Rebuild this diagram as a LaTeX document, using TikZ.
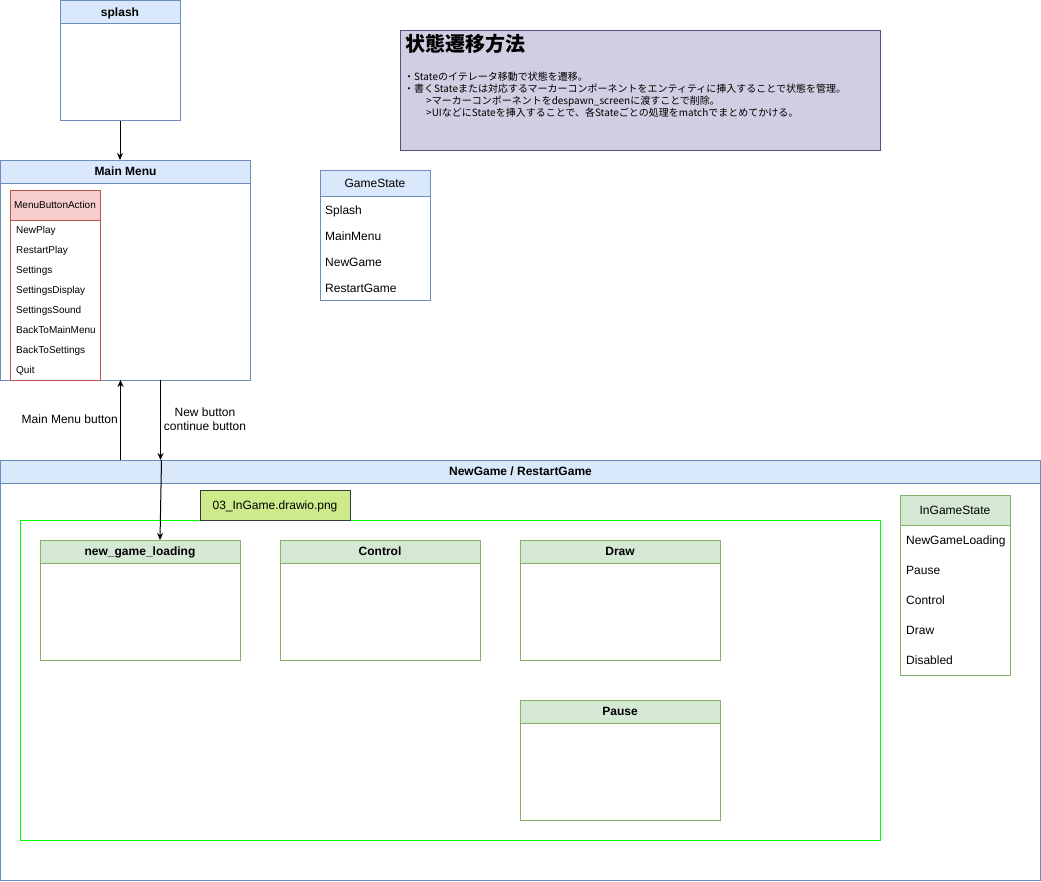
\documentclass[tikz,border=0pt]{standalone}
\usepackage{fontspec}
\setmainfont{Liberation Sans}
\newfontfamily\jp{Noto Sans CJK JP}
\usetikzlibrary{arrows.meta}

\definecolor{blfill}{HTML}{DAE8FC}
\definecolor{blline}{HTML}{6C8EBF}
\definecolor{rdfill}{HTML}{F8CECC}
\definecolor{rdline}{HTML}{B85450}
\definecolor{gnfill}{HTML}{D5E8D4}
\definecolor{gnline}{HTML}{82B366}
\definecolor{ntfill}{HTML}{D0CEE2}
\definecolor{ntline}{HTML}{56517E}
\definecolor{imgfill}{HTML}{CDEB8B}
\definecolor{imgline}{HTML}{36393D}
\definecolor{lime}{HTML}{00FF00}

\tikzset{
  frame/.style={draw=#1, line width=1pt, anchor=north west, inner sep=0pt, outer sep=0pt},
  head/.style 2 args={frame=#1, fill=#2, text depth=0pt, font=\fontsize{12}{14}\selectfont\bfseries},
  lhead/.style 2 args={frame=#1, fill=#2, text depth=0pt, font=\fontsize{12}{14}\selectfont},
  item/.style={anchor=base west, inner sep=0pt, yshift=-4.5pt, font=\fontsize{12}{14}\selectfont},
  sitem/.style={anchor=base west, inner sep=0pt, yshift=-3.6pt, font=\fontsize{10}{12}\selectfont},
  link/.style={line width=1pt, -{Stealth[length=7pt,width=6pt]}},
  lbl/.style={inner sep=0pt, font=\fontsize{12}{14}\selectfont, align=center},
}

\begin{document}
\begin{tikzpicture}[x=1pt,y=-1pt]
\useasboundingbox (0,0) rectangle (1041,881);

% splash
\node[frame=blline, minimum width=120pt, minimum height=120pt] (splash) at (60,0.5) {};
\node[head={blline}{blfill}, minimum width=120pt, minimum height=23pt] (splashh) at (60,0.5) {splash};

% Main Menu
\node[frame=blline, minimum width=250pt, minimum height=220pt] (menu) at (0.5,160) {};
\node[head={blline}{blfill}, minimum width=250pt, minimum height=23pt] (menuh) at (0.5,160) {Main Menu};

% MenuButtonAction enum
\node[frame=rdline, minimum width=90pt, minimum height=190pt] (mba) at (10,190) {};
\node[frame=rdline, fill=rdfill, minimum width=90pt, minimum height=30pt, text depth=0pt,
      font=\fontsize{10}{12}\selectfont] (mbah) at (10,190) {MenuButtonAction};
\node[sitem] (m1) at (16,230) {NewPlay};
\node[sitem] (m2) at (16,250) {RestartPlay};
\node[sitem] (m3) at (16,270) {Settings};
\node[sitem] (m4) at (16,290) {SettingsDisplay};
\node[sitem] (m5) at (16,310) {SettingsSound};
\node[sitem] (m6) at (16,330) {BackToMainMenu};
\node[sitem] (m7) at (16,350) {BackToSettings};
\node[sitem] (m8) at (16,370) {Quit};

% note
\node[frame=ntline, fill=ntfill, minimum width=480pt, minimum height=120pt] (note) at (400,30) {};
\node[anchor=north west, inner sep=0pt, font=\jp\bfseries\fontsize{20}{22}\selectfont] (notet) at (405,34) {状態遷移方法};
\node[anchor=north west, inner sep=0pt, align=left, font=\jp\fontsize{10}{12}\selectfont] (notebody) at (404,71.5)
  {・Stateのイテレータ移動で状態を遷移。\\
   ・書くStateまたは対応するマーカーコンポーネントをエンティティに挿入することで状態を管理。\\
   \hspace*{22pt}>マーカーコンポーネントをdespawn\_screenに渡すことで削除。\\
   \hspace*{22pt}>UIなどにStateを挿入することで、各Stateごとの処理をmatchでまとめてかける。};

% GameState enum
\node[frame=blline, minimum width=110pt, minimum height=130pt] (gs) at (320,170) {};
\node[lhead={blline}{blfill}, minimum width=110pt, minimum height=26pt] (gsh) at (320,170) {GameState};
\node[item] (g1) at (325,210) {Splash};
\node[item] (g2) at (325,236) {MainMenu};
\node[item] (g3) at (325,262) {NewGame};
\node[item] (g4) at (325,288) {RestartGame};

% NewGame / RestartGame
\node[frame=blline, minimum width=1040pt, minimum height=420pt] (game) at (0.5,460) {};
\node[head={blline}{blfill}, minimum width=1040pt, minimum height=23pt] (gameh) at (0.5,460) {NewGame / RestartGame};

\node[frame=lime, minimum width=860pt, minimum height=320pt] (ingame) at (20,520) {};
\node[frame=imgline, fill=imgfill, minimum width=150pt, minimum height=30pt, text depth=0pt,
      font=\fontsize{12}{14}\selectfont] (img) at (200,490) {03\_InGame.drawio.png};

\node[frame=gnline, minimum width=200pt, minimum height=120pt] (ngl) at (40,540) {};
\node[head={gnline}{gnfill}, minimum width=200pt, minimum height=23pt] (nglh) at (40,540) {new\_game\_loading};
\node[frame=gnline, minimum width=200pt, minimum height=120pt] (ctl) at (280,540) {};
\node[head={gnline}{gnfill}, minimum width=200pt, minimum height=23pt] (ctlh) at (280,540) {Control};
\node[frame=gnline, minimum width=200pt, minimum height=120pt] (drw) at (520,540) {};
\node[head={gnline}{gnfill}, minimum width=200pt, minimum height=23pt] (drwh) at (520,540) {Draw};
\node[frame=gnline, minimum width=200pt, minimum height=120pt] (pau) at (520,700) {};
\node[head={gnline}{gnfill}, minimum width=200pt, minimum height=23pt] (pauh) at (520,700) {Pause};

% InGameState enum
\node[frame=gnline, minimum width=110pt, minimum height=180pt] (igs) at (900,495) {};
\node[lhead={gnline}{gnfill}, minimum width=110pt, minimum height=30pt] (igsh) at (900,495) {InGameState};
\node[item] (i1) at (906,540) {NewGameLoading};
\node[item] (i2) at (906,570) {Pause};
\node[item] (i3) at (906,600) {Control};
\node[item] (i4) at (906,630) {Draw};
\node[item] (i5) at (906,660) {Disabled};

% transitions
\draw[link] (splash.south) -- (menuh.north -| splash.south);
\draw[link] ([xshift=-400pt]gameh.north) -- ([xshift=-5pt]menu.south);
\draw[link] ([xshift=35pt]menu.south) -- ([xshift=-360pt]gameh.north);
\draw[link] ([xshift=-359pt]gameh.north) -- ([xshift=20pt]nglh.north);

\node[lbl, anchor=east] (lup) at (118,419) {Main Menu button};
\node[lbl] (ldown) at (205,419.5) {New button\\continue button};
\end{tikzpicture}
\end{document}
